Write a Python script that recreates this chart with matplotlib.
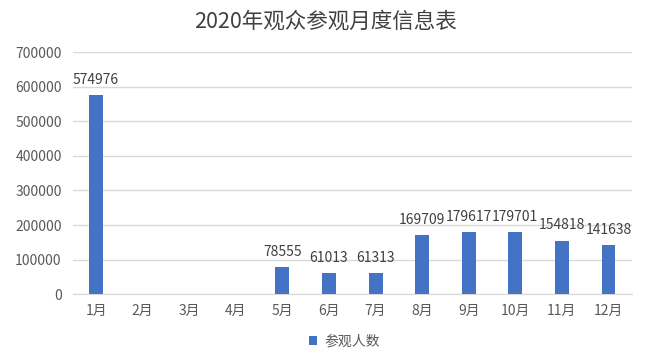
import matplotlib
matplotlib.use("Agg")
import matplotlib.pyplot as plt
from matplotlib.patches import Patch

plt.rcParams['font.family'] = ['Noto Sans CJK SC', 'DejaVu Sans']

months = ['1月', '2月', '3月', '4月', '5月', '6月', '7月', '8月', '9月', '10月', '11月', '12月']
visitors = [574976, 0, 0, 0, 78555, 61013, 61313, 169709, 179617, 179701, 154818, 141638]
yticks = [0, 100000, 200000, 300000, 400000, 500000, 600000, 700000]
title = '2020年观众参观月度信息表'
series_name = '参观人数'

bar_color = '#4472C4'
text_color = '#595959'
grid_color = '#D9D9D9'

fig = plt.figure(figsize=(6.5, 3.57), dpi=100)
ax = fig.add_axes([0.112, 0.176, 0.86, 0.678])

x = list(range(len(months)))
bars = ax.bar(x, visitors, width=0.3, color=bar_color, zorder=3)
for xi, v in zip(x, visitors):
    if v > 0:
        ax.annotate(f'{v}', (xi, v), xytext=(0, 6), textcoords='offset points',
                    ha='center', va='bottom', fontsize=10, color='#404040')

ax.set_xlim(-0.5, len(months) - 0.5)
ax.set_ylim(0, 700000)
ax.set_yticks(yticks)
ax.set_yticklabels([str(t) for t in yticks])
ax.set_xticks(x)
ax.set_xticklabels(months)
ax.tick_params(axis='both', length=0, labelsize=10, colors=text_color)
ax.tick_params(axis='y', pad=8)
ax.tick_params(axis='x', pad=7)
ax.yaxis.grid(True, color=grid_color, linewidth=1, zorder=0)
for s in ['top', 'right', 'left']:
    ax.spines[s].set_visible(False)
ax.spines['bottom'].set_color(grid_color)

fig.text(0.50, 0.94, title, ha='center', va='center', fontsize=15.5, color='#404040')

handle = Patch(facecolor=bar_color, label=series_name)
fig.legend(handles=[handle], loc='center', bbox_to_anchor=(0.53, 0.043), frameon=False,
           fontsize=10, labelcolor=text_color, handlelength=0.6, handleheight=0.6,
           handletextpad=0.5)

fig.savefig('out.png', dpi=100)
